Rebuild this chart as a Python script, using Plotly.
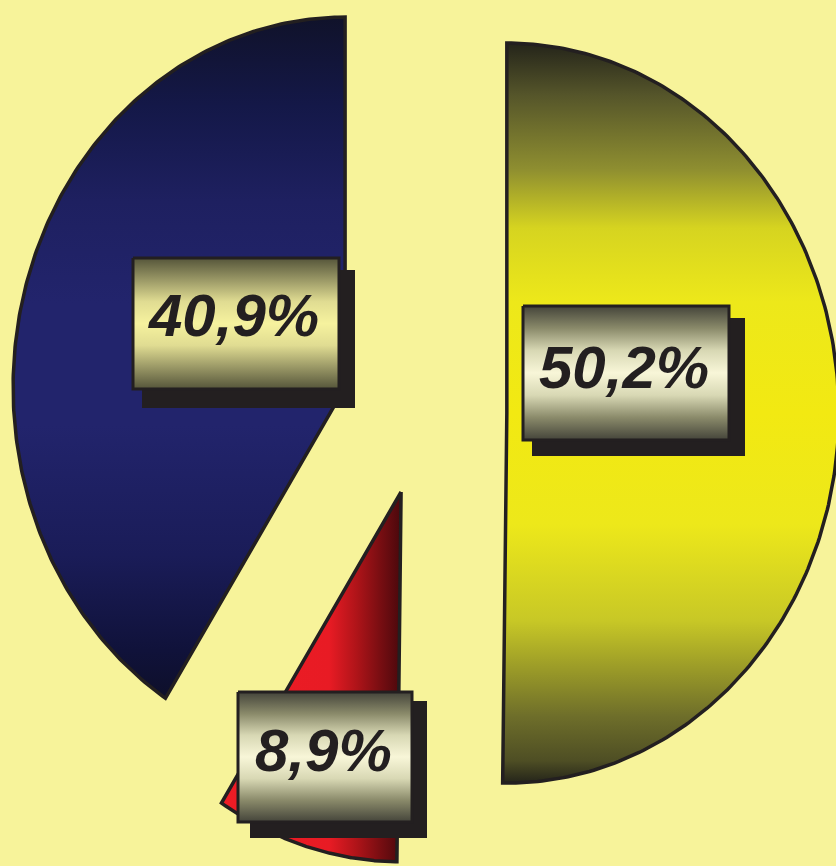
import numpy as np
import plotly.graph_objects as go

# Shares of the three segments, clockwise from 12 o'clock
shares = [50.2, 8.9, 40.9]
share_labels = ["50,2%", "8,9%", "40,9%"]

# ---- layout / style -------------------------------------------------------
W, H = 836, 866
RX, RY = 332, 370          # pixel radii of the pie (slightly squeezed horizontally)
CX, CY = 422.5, 412.5      # pixel position of the pie centre
pulls = [0.254, 0.224, 0.243]   # explode distance of each segment (radius units)
BG = "#f7f39a"
EDGE = "#231f20"

slice_fills = [
    dict(type="vertical", colorscale=[
        [0.0, "#24241a"], [0.03, "#4e4e24"], [0.09, "#6e6e2a"], [0.22, "#c8c826"],
        [0.35, "#ede81a"], [0.5, "#f2e912"], [0.65, "#ede81a"], [0.75, "#d6d420"],
        [0.83, "#8e8e30"], [0.93, "#55552a"], [1.0, "#24241a"]]),
    dict(type="horizontal", colorscale=[
        [0.0, "#ee1c25"], [0.6, "#e81b24"], [0.75, "#b01419"], [0.88, "#7a0e12"],
        [1.0, "#4a080c"]]),
    dict(type="vertical", colorscale=[
        [0.0, "#0e0f2a"], [0.07, "#10123a"], [0.21, "#1a1c58"], [0.4, "#22246c"],
        [0.58, "#22246c"], [0.73, "#1e2060"], [0.87, "#141848"], [1.0, "#10122a"]]),
]

# label boxes (pixel rectangles: x0, y0, x1, y1) and their drop shadows
label_boxes = [(523, 306, 729, 440), (238, 692, 412, 822), (133, 258, 339, 389)]
label_shadows = [(532, 318, 745, 456), (250, 701, 427, 838), (142, 270, 355, 408)]
label_text_pos = [(624, 367), (323, 750), (233, 315)]
box_fills = [
    ["#44443a", "#8a8a6a", "#d8d8b4", "#f8f6d8", "#d8d8b4", "#8a8a6a", "#44443a"],
    ["#44443a", "#8a8a6a", "#d8d8b4", "#f8f6d8", "#d8d8b4", "#8a8a6a", "#44443a"],
    ["#55553a", "#9a9866", "#e0dc92", "#f6f29e", "#e0dc92", "#9a9866", "#55553a"],
]


def to_data(x, y):
    """Pixel position -> data coordinates (radius 1 = pie radius)."""
    return (x - CX) / RX, (CY - y) / RY


fig = go.Figure()

# ---- pie segments ----------------------------------------------------------
total = sum(shares)
start = 0.0
for val, pull, fillg in zip(shares, pulls, slice_fills):
    sweep = val / total * 2 * np.pi
    mid = start + sweep / 2
    ax, ay = pull * np.sin(mid), pull * np.cos(mid)
    t = np.linspace(start, start + sweep, 240)
    xs = np.concatenate([[ax], ax + np.sin(t), [ax]])
    ys = np.concatenate([[ay], ay + np.cos(t), [ay]])
    fig.add_trace(go.Scatter(
        x=xs, y=ys, mode="lines", fill="toself", fillgradient=fillg,
        line=dict(color=EDGE, width=3.5), hoverinfo="skip", showlegend=False))
    start += sweep


def rect(b):
    x0, y0 = to_data(b[0], b[1])
    x1, y1 = to_data(b[2], b[3])
    return [x0, x1, x1, x0, x0], [y0, y0, y1, y1, y0]


# ---- label shadows, then label boxes ---------------------------------------
for sh in label_shadows:
    xs, ys = rect(sh)
    fig.add_trace(go.Scatter(x=xs, y=ys, mode="lines", fill="toself",
                             fillcolor=EDGE, line=dict(color=EDGE, width=0),
                             hoverinfo="skip", showlegend=False))

for b, cols in zip(label_boxes, box_fills):
    xs, ys = rect(b)
    n = len(cols) - 1
    fig.add_trace(go.Scatter(
        x=xs, y=ys, mode="lines", fill="toself",
        fillgradient=dict(type="vertical",
                          colorscale=[[i / n, c] for i, c in enumerate(cols)]),
        line=dict(color=EDGE, width=3), hoverinfo="skip", showlegend=False))

for txt, (tx, ty) in zip(share_labels, label_text_pos):
    x, y = to_data(tx, ty)
    fig.add_annotation(
        x=x, y=y, xref="x", yref="y", text=txt, showarrow=False,
        xanchor="center", yanchor="middle",
        font=dict(family="Liberation Sans, Arial", size=60, color=EDGE,
                  weight="bold", style="italic"))

x_lo, y_hi = to_data(0, 0)
x_hi, y_lo = to_data(W, H)
fig.update_layout(
    width=W, height=H, margin=dict(l=0, r=0, t=0, b=0),
    paper_bgcolor=BG, plot_bgcolor=BG,
    xaxis=dict(range=[x_lo, x_hi], visible=False, fixedrange=True),
    yaxis=dict(range=[y_lo, y_hi], visible=False, fixedrange=True),
)

fig.write_html("out.html", config={"displayModeBar": False})
